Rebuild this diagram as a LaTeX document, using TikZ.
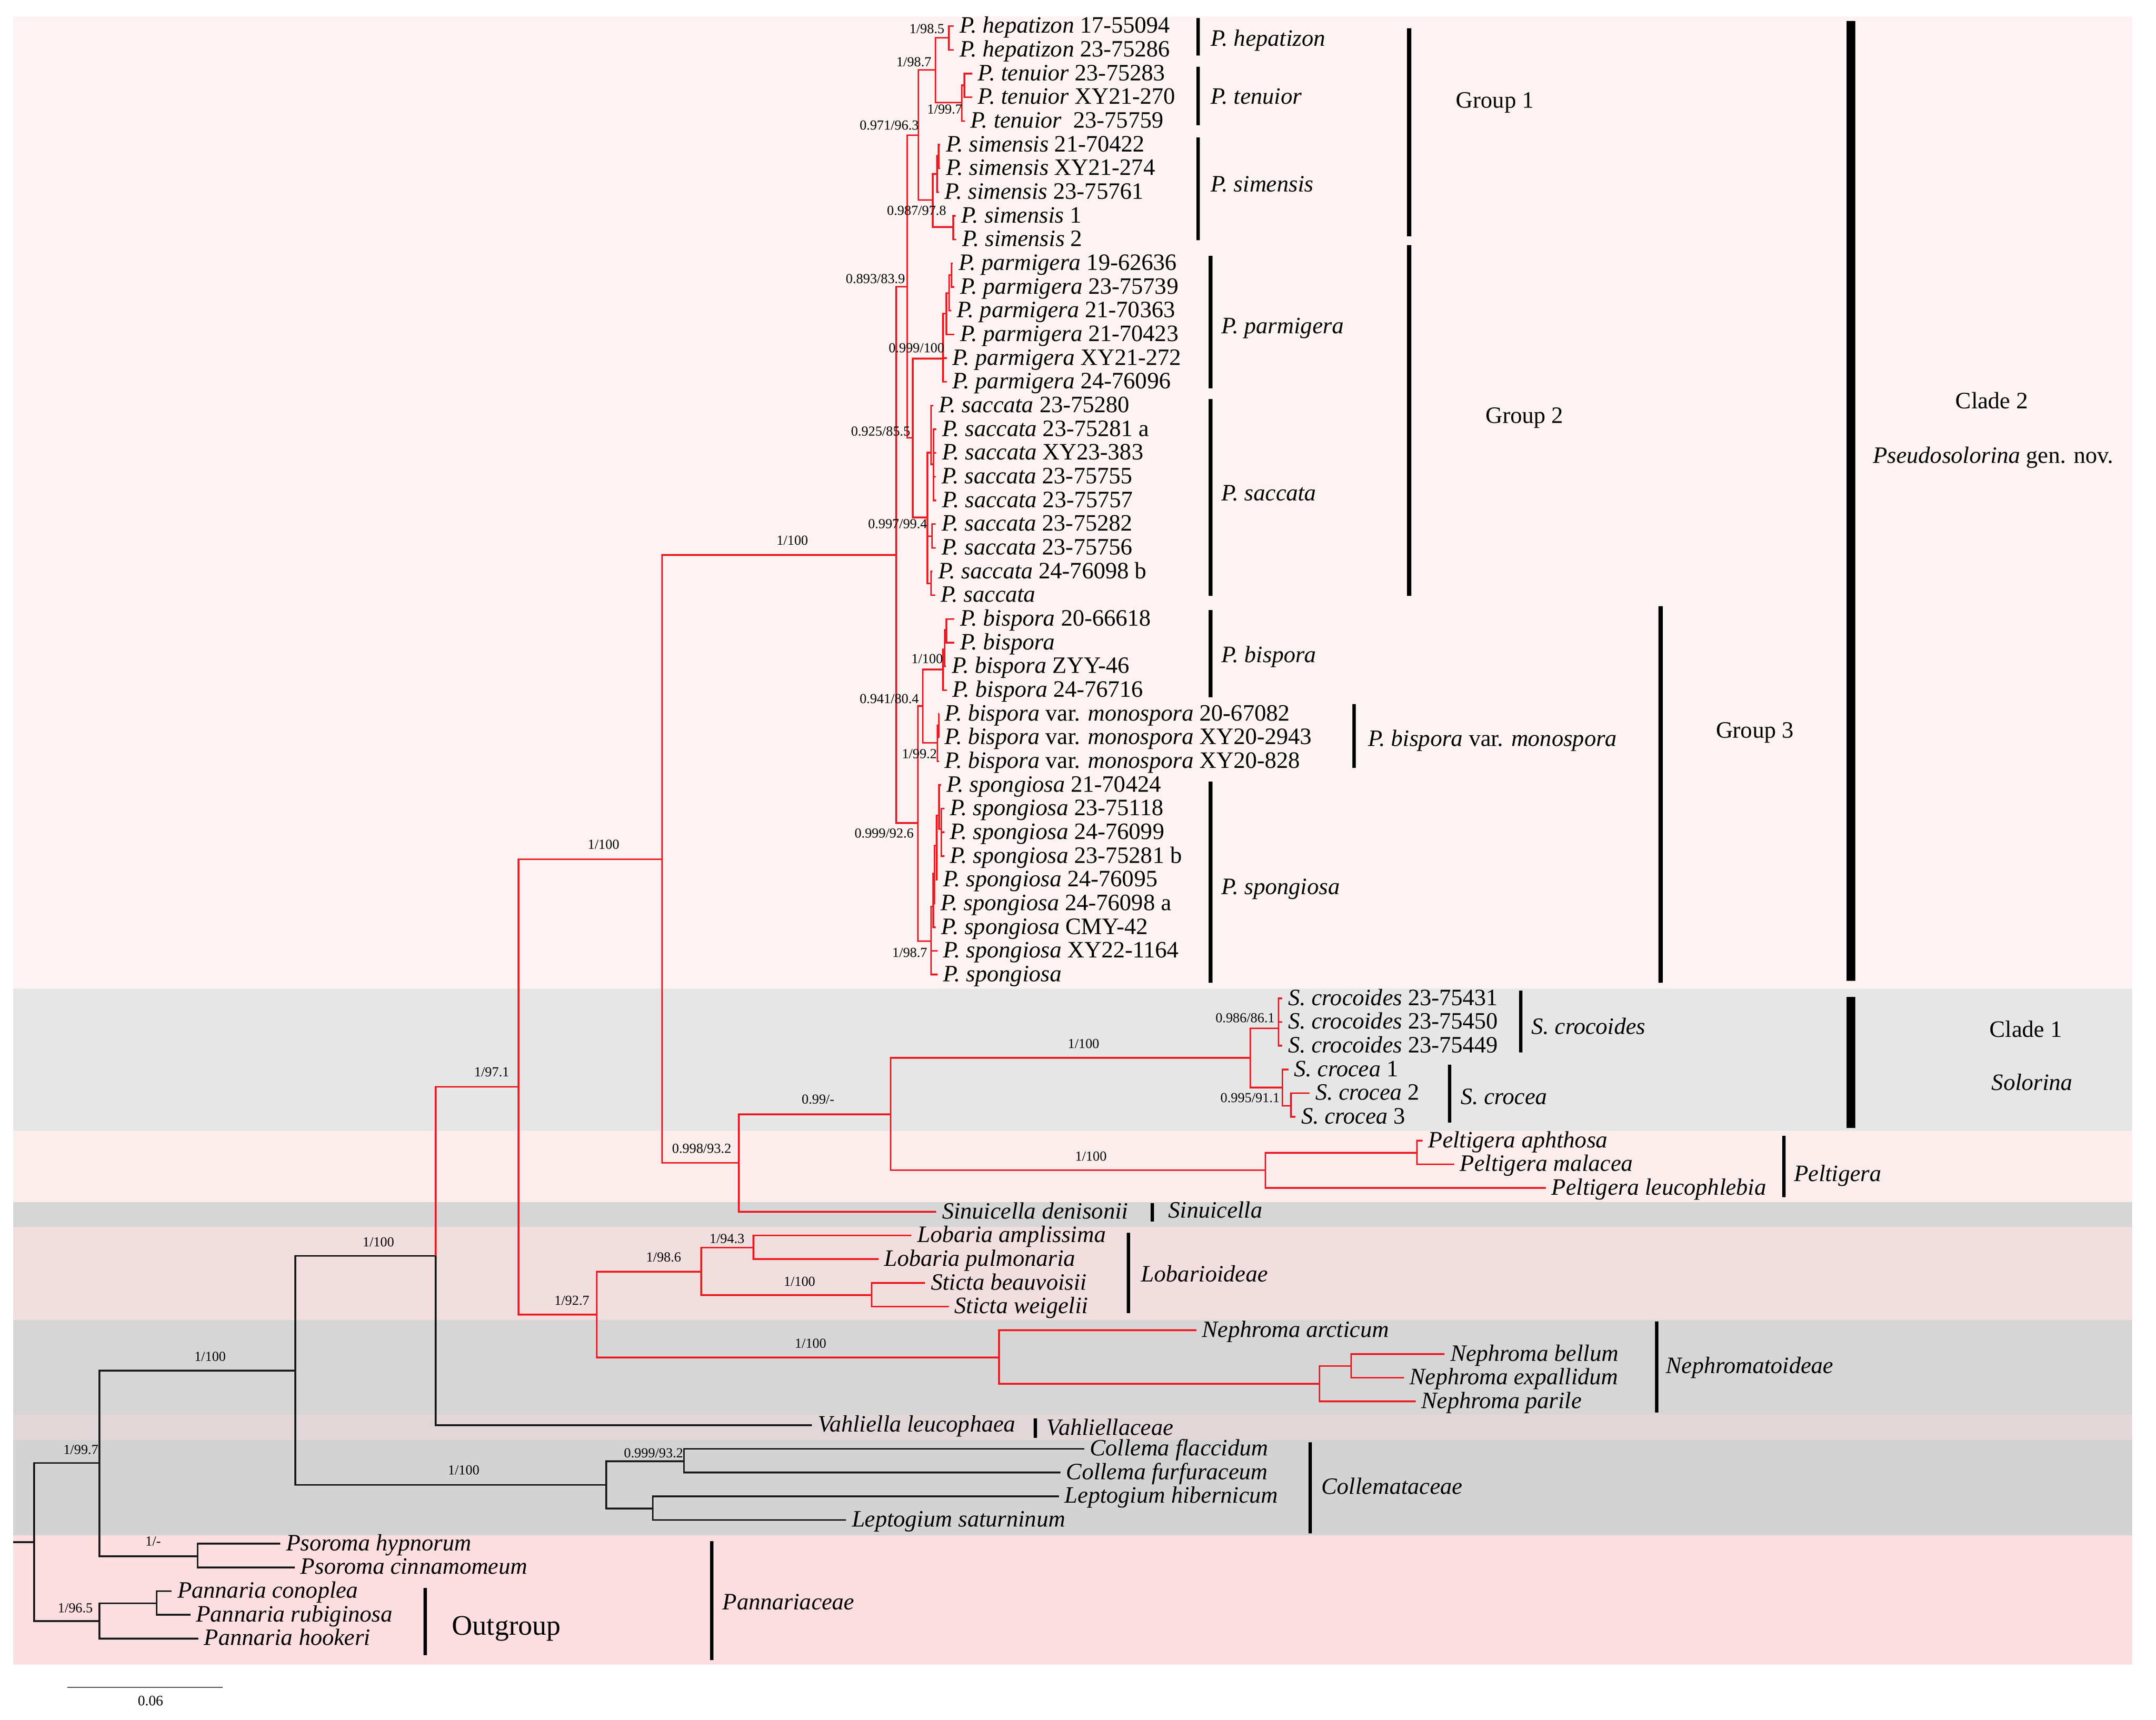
\documentclass[tikz,border=0pt]{standalone}
\usepackage{fontspec}
\setmainfont{Liberation Serif}
\definecolor{bgA}{HTML}{FCF3F2}
\definecolor{bgB}{HTML}{E6E6E6}
\definecolor{bgC}{HTML}{FCEDED}
\definecolor{bgD}{HTML}{D6D6D6}
\definecolor{bgE}{HTML}{F2DEDE}
\definecolor{bgF}{HTML}{D6D6D6}
\definecolor{bgG}{HTML}{E2D7D8}
\definecolor{bgH}{HTML}{D3D3D3}
\definecolor{bgI}{HTML}{FCDDE0}
\definecolor{treered}{HTML}{ED1C24}
\definecolor{treeblk}{HTML}{1A1A1A}
\newcommand\tipnode[3]{\node[tip] (t#1) at (#2,{18.9+17.16*#1}) {#3};}
\newcommand\edgeR[2]{\draw[br] (#1) |- (#2);}
\newcommand\tipR[2]{\draw[br,shorten >=4pt] (#1) |- (t#2.west);}
\newcommand\edgeK[2]{\draw[bb] (#1) |- (#2);}
\newcommand\tipK[2]{\draw[bb,shorten >=4pt] (#1) |- (t#2.west);}
\begin{document}
\begin{tikzpicture}[x=1pt,y=-1pt,
 br/.style={draw=treered,line width=1.2pt},
 bb/.style={draw=treeblk,line width=1.2pt},
 tip/.style={anchor=west,inner sep=0pt,font=\fontsize{17}{20}\selectfont,text height=12pt,text depth=2pt},
 clab/.style={tip},
 big/.style={anchor=center,inner sep=0pt,font=\fontsize{17}{20}\selectfont,text height=12pt,text depth=2pt},
 supe/.style={anchor=east,inner sep=0pt,font=\fontsize{10}{12}\selectfont,text height=7pt,text depth=0pt},
 supc/.style={anchor=center,inner sep=0pt,font=\fontsize{10}{12}\selectfont,text height=7pt,text depth=0pt},
 sbar/.style={line width=2.5pt},
 gbar/.style={line width=3.2pt},
 cbar/.style={line width=6.2pt}]
\useasboundingbox (0,0) rectangle (1560,1244.7);
\fill[white] (0,0) rectangle (1560,1244.7);
% background bands
\fill[bgA] (9.4,12) rectangle (1542.8,715.4);
\fill[bgB] (9.4,715.4) rectangle (1542.8,818.4);
\fill[bgC] (9.4,818.4) rectangle (1542.8,869.9);
\fill[bgD] (9.4,869.9) rectangle (1542.8,888.0);
\fill[bgE] (9.4,888.0) rectangle (1542.8,955.4);
\fill[bgF] (9.4,955.4) rectangle (1542.8,1023.6);
\fill[bgG] (9.4,1023.6) rectangle (1542.8,1041.9);
\fill[bgH] (9.4,1041.9) rectangle (1542.8,1111.1);
\fill[bgI] (9.4,1111.1) rectangle (1542.8,1204.6);

% tips
\tipnode{0}{694.2}{\textit{P. hepatizon} 17-55094}
\tipnode{1}{694.2}{\textit{P. hepatizon} 23-75286}
\tipnode{2}{707.5}{\textit{P. tenuior} 23-75283}
\tipnode{3}{707.5}{\textit{P. tenuior} XY21-270}
\tipnode{4}{702.1}{\textit{P. tenuior}\ \ 23-75759}
\tipnode{5}{684.3}{\textit{P. simensis} 21-70422}
\tipnode{6}{684.3}{\textit{P. simensis} XY21-274}
\tipnode{7}{683.5}{\textit{P. simensis} 23-75761}
\tipnode{8}{695.4}{\textit{P. simensis} 1}
\tipnode{9}{695.9}{\textit{P. simensis} 2}
\tipnode{10}{693.4}{\textit{P. parmigera} 19-62636}
\tipnode{11}{694.6}{\textit{P. parmigera} 23-75739}
\tipnode{12}{692.2}{\textit{P. parmigera} 21-70363}
\tipnode{13}{694.6}{\textit{P. parmigera} 21-70423}
\tipnode{14}{689.0}{\textit{P. parmigera} XY21-272}
\tipnode{15}{689.0}{\textit{P. parmigera} 24-76096}
\tipnode{16}{679.1}{\textit{P. saccata} 23-75280}
\tipnode{17}{681.5}{\textit{P. saccata} 23-75281 a}
\tipnode{18}{681.5}{\textit{P. saccata} XY23-383}
\tipnode{19}{681.1}{\textit{P. saccata} 23-75755}
\tipnode{20}{681.5}{\textit{P. saccata} 23-75757}
\tipnode{21}{681.1}{\textit{P. saccata} 23-75282}
\tipnode{22}{681.1}{\textit{P. saccata} 23-75756}
\tipnode{23}{678.6}{\textit{P. saccata} 24-76098 b}
\tipnode{24}{680.5}{\textit{P. saccata}}
\tipnode{25}{694.6}{\textit{P. bispora} 20-66618}
\tipnode{26}{694.6}{\textit{P. bispora}}
\tipnode{27}{688.5}{\textit{P. bispora} ZYY-46}
\tipnode{28}{689.0}{\textit{P. bispora} 24-76716}
\tipnode{29}{683.5}{\textit{P. bispora} var. \textit{monospora} 20-67082}
\tipnode{30}{683.5}{\textit{P. bispora} var. \textit{monospora} XY20-2943}
\tipnode{31}{683.5}{\textit{P. bispora} var. \textit{monospora} XY20-828}
\tipnode{32}{684.8}{\textit{P. spongiosa} 21-70424}
\tipnode{33}{687.2}{\textit{P. spongiosa} 23-75118}
\tipnode{34}{687.2}{\textit{P. spongiosa} 24-76099}
\tipnode{35}{687.2}{\textit{P. spongiosa} 23-75281 b}
\tipnode{36}{682.3}{\textit{P. spongiosa} 24-76095}
\tipnode{37}{680.5}{\textit{P. spongiosa} 24-76098 a}
\tipnode{38}{681.0}{\textit{P. spongiosa} CMY-42}
\tipnode{39}{682.3}{\textit{P. spongiosa} XY22-1164}
\tipnode{40}{682.3}{\textit{P. spongiosa}}
\tipnode{41}{931.9}{\textit{S. crocoides} 23-75431}
\tipnode{42}{931.9}{\textit{S. crocoides} 23-75450}
\tipnode{43}{931.9}{\textit{S. crocoides} 23-75449}
\tipnode{44}{936.2}{\textit{S. crocea} 1}
\tipnode{45}{951.6}{\textit{S. crocea} 2}
\tipnode{46}{941.3}{\textit{S. crocea} 3}
\tipnode{47}{1033.2}{\textit{Peltigera aphthosa}}
\tipnode{48}{1056.2}{\textit{Peltigera malacea}}
\tipnode{49}{1122.5}{\textit{Peltigera leucophlebia}}
\tipnode{50}{681.5}{\textit{Sinuicella denisonii}}
\tipnode{51}{663.5}{\textit{Lobaria amplissima}}
\tipnode{52}{639.6}{\textit{Lobaria pulmonaria}}
\tipnode{53}{673.4}{\textit{Sticta beauvoisii}}
\tipnode{54}{690.4}{\textit{Sticta weigelii}}
\tipnode{55}{869.6}{\textit{Nephroma arcticum}}
\tipnode{56}{1049.2}{\textit{Nephroma bellum}}
\tipnode{57}{1019.8}{\textit{Nephroma expallidum}}
\tipnode{58}{1028.2}{\textit{Nephroma parile}}
\tipnode{59}{591.5}{\textit{Vahliella leucophaea}}
\tipnode{60}{788.5}{\textit{Collema flaccidum}}
\tipnode{61}{771.3}{\textit{Collema furfuraceum}}
\tipnode{62}{770.2}{\textit{Leptogium hibernicum}}
\tipnode{63}{616.2}{\textit{Leptogium saturninum}}
\tipnode{64}{206.9}{\textit{Psoroma hypnorum}}
\tipnode{65}{217.3}{\textit{Psoroma cinnamomeum}}
\tipnode{66}{128.2}{\textit{Pannaria conoplea}}
\tipnode{67}{141.7}{\textit{Pannaria rubiginosa}}
\tipnode{68}{147.5}{\textit{Pannaria hookeri}}

% internal nodes
\coordinate (Root0) at (9.4,1116);
\coordinate (Root) at (24.7,1116);
\coordinate (Nd7) at (72,1058.7);
\coordinate (Pann) at (72,1173.1);
\coordinate (PannA) at (113.4,1160.2);
\coordinate (Psor) at (143,1126.2);
\coordinate (Nd6) at (213.7,991.9);
\coordinate (Coll) at (438.6,1074.5);
\coordinate (CollA) at (494.8,1057.5);
\coordinate (Lept) at (472.3,1091.7);
\coordinate (Nd5) at (315.2,908.8);
\coordinate (Nd2) at (375.2,786.5);
\coordinate (Lob) at (431.8,951.3);
\coordinate (LobS) at (507.4,920.3);
\coordinate (Loba) at (545.2,902.8);
\coordinate (Stic) at (630.6,937.3);
\coordinate (Neph) at (722.8,982.4);
\coordinate (NephS) at (954.8,1001.5);
\coordinate (NephT) at (977.7,988.6);
\coordinate (Nd1) at (479.1,621.8);
\coordinate (Nd3) at (534.5,841.6);
\coordinate (Nd4) at (644.5,806.4);
\coordinate (Sol) at (904.6,765.6);
\coordinate (Croc) at (925.1,744.3);
\coordinate (Crocea) at (928,787.1);
\coordinate (CrS) at (934.1,800.3);
\coordinate (Pelt) at (915.6,846.8);
\coordinate (PeltA) at (1025.2,834.3);
\coordinate (C2in) at (648.5,401.6);
\coordinate (G12) at (656.3,207.6);
\coordinate (G1) at (664.5,97.8);
\coordinate (HT) at (676.8,50.7);
\coordinate (H) at (686.5,27.3);
\coordinate (T2) at (695.9,74.3);
\coordinate (T1) at (697.9,61.7);
\coordinate (Sc) at (674.9,144.8);
\coordinate (Sb) at (678.1,125.9);
\coordinate (Sa) at (679.1,112.7);
\coordinate (Sd) at (689.7,164.3);
\coordinate (G2) at (660.5,316.9);
\coordinate (Proot) at (682.3,259.5);
\coordinate (P3) at (684.8,227);
\coordinate (P2) at (686.7,212);
\coordinate (P1) at (688.5,199);
\coordinate (Sroot) at (671.1,374.5);
\coordinate (SB) at (673.6,327.6);
\coordinate (SA) at (675.5,336);
\coordinate (SC) at (674.4,388);
\coordinate (SD) at (673.6,422.3);
\coordinate (G3) at (664.1,595.6);
\coordinate (BM) at (667.7,511.0);
\coordinate (Broot) at (682.3,484.5);
\coordinate (B2) at (683.5,470);
\coordinate (B1) at (684.8,456);
\coordinate (Mroot) at (678.2,537.6);
\coordinate (M1) at (679.3,525);
\coordinate (Sproot) at (673.7,681.1);
\coordinate (Sp5) at (675.2,656);
\coordinate (Sp4) at (676.2,632);
\coordinate (Sp3) at (677.8,612);
\coordinate (Sp2) at (679.5,590);
\coordinate (Sp1) at (681,600);

% black backbone
\draw[bb] (Root0) -- (Root);
\edgeK{Root}{Nd7} \edgeK{Root}{Pann}
\edgeK{Pann}{PannA} \tipK{PannA}{66} \tipK{PannA}{67} \tipK{Pann}{68}
\edgeK{Nd7}{Nd6} \edgeK{Nd7}{Psor} \tipK{Psor}{64} \tipK{Psor}{65}
\edgeK{Nd6}{Nd5} \edgeK{Nd6}{Coll}
\edgeK{Coll}{CollA} \edgeK{Coll}{Lept}
\tipK{CollA}{60} \tipK{CollA}{61} \tipK{Lept}{62} \tipK{Lept}{63}
\tipK{Nd5}{59}
% red part
\edgeR{Nd5}{Nd2}
\edgeR{Nd2}{Nd1} \edgeR{Nd2}{Lob}
\edgeR{Lob}{LobS} \edgeR{Lob}{Neph}
\edgeR{LobS}{Loba} \edgeR{LobS}{Stic}
\tipR{Loba}{51} \tipR{Loba}{52} \tipR{Stic}{53} \tipR{Stic}{54}
\tipR{Neph}{55} \edgeR{Neph}{NephS} \edgeR{NephS}{NephT} \tipR{NephS}{58}
\tipR{NephT}{56} \tipR{NephT}{57}
\edgeR{Nd1}{C2in} \edgeR{Nd1}{Nd3}
\edgeR{Nd3}{Nd4} \tipR{Nd3}{50}
\edgeR{Nd4}{Sol} \edgeR{Nd4}{Pelt}
\edgeR{Sol}{Croc} \edgeR{Sol}{Crocea}
\tipR{Croc}{41} \tipR{Croc}{42} \tipR{Croc}{43}
\tipR{Crocea}{44} \edgeR{Crocea}{CrS} \tipR{CrS}{45} \tipR{CrS}{46}
\edgeR{Pelt}{PeltA} \tipR{Pelt}{49} \tipR{PeltA}{47} \tipR{PeltA}{48}
% Pseudosolorina
\edgeR{C2in}{G12} \edgeR{C2in}{G3}
\edgeR{G12}{G1} \edgeR{G12}{G2}
\edgeR{G1}{HT} \edgeR{G1}{Sc}
\edgeR{HT}{H} \edgeR{HT}{T2} \edgeR{T2}{T1}
\tipR{H}{0} \tipR{H}{1} \tipR{T1}{2} \tipR{T1}{3} \tipR{T2}{4}
\edgeR{Sc}{Sb} \edgeR{Sc}{Sd} \edgeR{Sb}{Sa}
\tipR{Sa}{5} \tipR{Sa}{6} \tipR{Sb}{7} \tipR{Sd}{8} \tipR{Sd}{9}
\edgeR{G2}{Proot} \edgeR{G2}{Sroot}
\edgeR{Proot}{P3} \edgeR{P3}{P2} \edgeR{P2}{P1}
\tipR{P1}{10} \tipR{P1}{11} \tipR{P2}{12} \tipR{P3}{13} \tipR{Proot}{14} \tipR{Proot}{15}
\edgeR{Sroot}{SB} \edgeR{Sroot}{SC} \edgeR{Sroot}{SD} \edgeR{SB}{SA}
\tipR{SB}{16} \tipR{SA}{17} \tipR{SA}{18} \tipR{SA}{19} \tipR{SA}{20}
\tipR{SC}{21} \tipR{SC}{22} \tipR{SD}{23} \tipR{SD}{24}
\edgeR{G3}{BM} \edgeR{G3}{Sproot}
\edgeR{BM}{Broot} \edgeR{BM}{Mroot}
\edgeR{Broot}{B2} \edgeR{B2}{B1}
\tipR{B1}{25} \tipR{B1}{26} \tipR{B2}{27} \tipR{Broot}{28}
\edgeR{Mroot}{M1} \tipR{M1}{29} \tipR{M1}{30} \tipR{Mroot}{31}
\edgeR{Sproot}{Sp5} \edgeR{Sp5}{Sp4} \edgeR{Sp4}{Sp3} \edgeR{Sp3}{Sp2} \edgeR{Sp2}{Sp1}
\tipR{Sp2}{32} \tipR{Sp1}{33} \tipR{Sp1}{34} \tipR{Sp1}{35} \tipR{Sp3}{36}
\tipR{Sp4}{37} \tipR{Sp5}{38} \tipR{Sproot}{39} \tipR{Sproot}{40}

% support values
\node[supe] (s1) at (683.5,20.8) {1/98.5};
\node[supe] (s2) at (674.1,44.7) {1/98.7};
\node[supe] (s3) at (696.4,78.7) {1/99.7};
\node[supe] (s4) at (665.0,90.6) {0.971/96.3};
\node[supe] (s5) at (684.8,152.3) {0.987/97.8};
\node[supe] (s6) at (655.0,201.6) {0.893/83.9};
\node[supe] (s7) at (683.5,251.5) {0.999/100};
\node[supe] (s8) at (658.8,311.8) {0.925/85.5};
\node[supe] (s9) at (671.1,378.8) {0.997/99.4};
\node[supe] (s10) at (682.4,476.7) {1/100};
\node[supe] (s11) at (665.0,505.4) {0.941/80.4};
\node[supe] (s12) at (678.1,545.2) {1/99.2};
\node[supe] (s13) at (661.3,603.0) {0.999/92.6};
\node[supe] (s14) at (671.1,689.3) {1/98.7};
\node[supc] (s15) at (573.3,391.0) {1/100};
\node[supc] (s16) at (436.7,610.8) {1/100};
\node[supc] (s17) at (355.8,775.6) {1/97.1};
\node[supc] (s18) at (507.7,831.0) {0.998/93.2};
\node[supc] (s19) at (591.9,795.5) {0.99/-};
\node[supc] (s20) at (784.0,755.1) {1/100};
\node[supc] (s21) at (789.3,836.7) {1/100};
\node[supe] (s22) at (922.5,736.5) {0.986/86.1};
\node[supe] (s23) at (926.1,794.2) {0.995/91.1};
\node[supc] (s24) at (526.0,896.2) {1/94.3};
\node[supc] (s25) at (480.2,909.6) {1/98.6};
\node[supc] (s26) at (578.5,927.1) {1/100};
\node[supc] (s27) at (413.8,941.1) {1/92.7};
\node[supc] (s28) at (586.5,972.0) {1/100};
\node[supc] (s29) at (273.8,898.6) {1/100};
\node[supc] (s30) at (152.0,981.5) {1/100};
\node[supc] (s31) at (335.5,1063.8) {1/100};
\node[supc] (s32) at (472.9,1051.4) {0.999/93.2};
\node[supc] (s33) at (58.5,1049.0) {1/99.7};
\node[supc] (s34) at (110.8,1115.3) {1/-};
\node[supc] (s35) at (54.5,1163.4) {1/96.5};

% clade bars
\draw[sbar] (866.8,13.2) -- (866.8,40.3);
\draw[sbar] (866.8,48.2) -- (866.8,90.6);
\draw[sbar] (866.8,99.4) -- (866.8,173.9);
\draw[sbar] (875.9,185) -- (875.9,281.2);
\draw[sbar] (875.9,288.8) -- (875.9,431.1);
\draw[sbar] (875.9,441.5) -- (875.9,504.6);
\draw[sbar] (979.7,509.5) -- (979.7,555.9);
\draw[sbar] (875.9,565.6) -- (875.9,711.4);
\draw[gbar] (1019.7,20.5) -- (1019.7,171);
\draw[gbar] (1019.7,177.4) -- (1019.7,431.1);
\draw[gbar] (1201.4,438.8) -- (1201.4,711.4);
\draw[cbar] (1339.3,15.2) -- (1339.3,709.7);
\draw[sbar] (1100.3,716.8) -- (1100.3,761.8);
\draw[sbar] (1048.9,770.5) -- (1048.9,812.6);
\draw[cbar] (1339.3,721.3) -- (1339.3,816.3);
\draw[sbar] (1290.9,821.9) -- (1290.9,866.5);
\draw[sbar] (833.7,870.5) -- (833.7,884);
\draw[sbar] (816.4,892) -- (816.4,950.4);
\draw[sbar] (1198.7,956.2) -- (1198.7,1022.4);
\draw[sbar] (749.1,1026.4) -- (749.1,1040.5);
\draw[sbar] (948,1043.7) -- (948,1109.8);
\draw[sbar] (307.7,1149.3) -- (307.7,1197.9);
\draw[sbar] (515,1115.3) -- (515,1201.5);

% clade labels
\node[clab] (Lhep) at (875.9,28.4) {\textit{P. hepatizon}};
\node[clab] (Lten) at (875.9,70.2) {\textit{P. tenuior}};
\node[clab] (Lsim) at (875.9,133.9) {\textit{P. simensis}};
\node[clab] (Lpar) at (883.6,236.2) {\textit{P. parmigera}};
\node[clab] (Lsac) at (883.6,357.2) {\textit{P. saccata}};
\node[clab] (Lbis) at (883.6,474.4) {\textit{P. bispora}};
\node[clab] (Lmon) at (989.7,535.1) {\textit{P. bispora} var. \textit{monospora}};
\node[clab] (Lspo) at (883.6,642.3) {\textit{P. spongiosa}};
\node[clab] (Lg1) at (1053.4,73.1) {Group 1};
\node[clab] (Lg2) at (1074.8,301.1) {Group 2};
\node[clab] (Lg3) at (1241.4,529.2) {Group 3};
\node[big] (Lc2) at (1441.2,290.8) {Clade 2};
\node[big] (Lc2b) at (1442.2,330.3) {\textit{Pseudosolorina} gen. nov.};
\node[clab] (Lcro) at (1108,743.5) {\textit{S. crocoides}};
\node[clab] (Lcrc) at (1056.6,794.2) {\textit{S. crocea}};
\node[big] (Lc1) at (1465.8,745.6) {Clade 1};
\node[big] (Lc1b) at (1470.4,784) {\textit{Solorina}};
\node[clab] (Lpel) at (1297.9,849.8) {\textit{Peltigera}};
\node[clab] (Lsin) at (845.2,876.3) {\textit{Sinuicella}};
\node[clab] (Llob) at (825.6,922.5) {\textit{Lobarioideae}};
\node[clab] (Lnep) at (1205.2,988.9) {\textit{Nephromatoideae}};
\node[clab] (Lvah) at (757.2,1033.8) {\textit{Vahliellaceae}};
\node[clab] (Lcol) at (956,1076.3) {\textit{Collemataceae}};
\node[anchor=west,inner sep=0pt,font=\fontsize{20.5}{24}\selectfont,text height=14.5pt,text depth=2.5pt] (Lout) at (327,1177.2) {Outgroup};
\node[clab] (Lpan) at (522.7,1159.8) {\textit{Pannariaceae}};

% scale bar
\coordinate (sb1) at (48.6,1221);
\coordinate (sb2) at (161,1221);
\draw[line width=0.8pt,draw=black!70] (sb1) -- (sb2);
\node[supc,font=\fontsize{10.5}{12}\selectfont] (sbl) at (108.9,1231) {0.06};
\end{tikzpicture}
\end{document}
